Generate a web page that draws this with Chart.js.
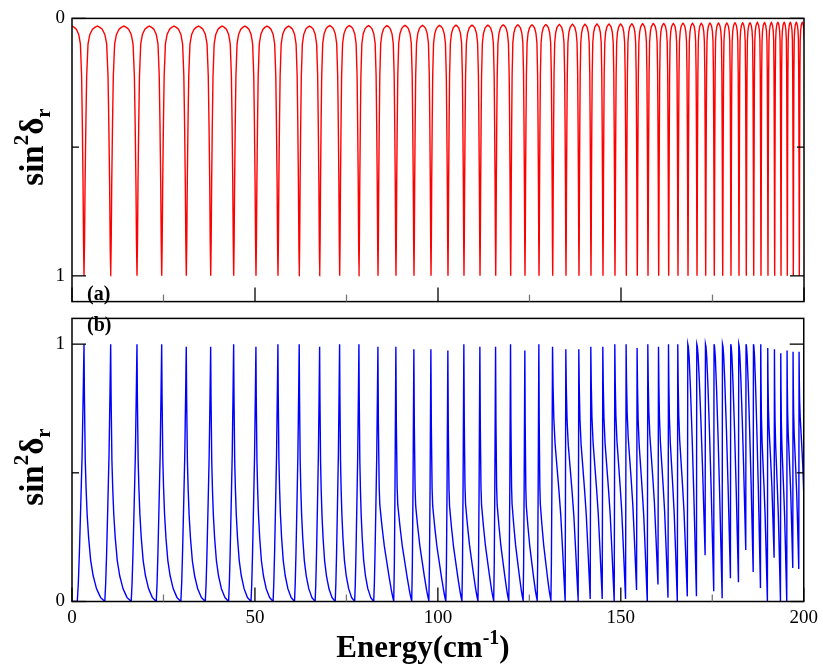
<!DOCTYPE html>
<html>
<head>
<meta charset="utf-8">
<script src="https://cdn.jsdelivr.net/npm/chart.js@4"></script>
<style>
  html, body { margin: 0; padding: 0; background: #fff; }
  #wrap { position: relative; width: 823px; height: 665px; }
  canvas { position: absolute; left: 0; }
</style>
</head>
<body>
<div id="wrap">
  <canvas id="chartA" width="823" height="320" style="top:0px"></canvas>
  <canvas id="chartB" width="823" height="365" style="top:300px"></canvas>
</div>
<script>
const FONT = "'Liberation Serif', 'Times New Roman', serif";

// resonance energies (cm^-1): dips of panel (a), peaks of panel (b)
const energies = [3.28, 10.57, 17.76, 24.51, 31.23, 37.90, 44.18, 50.27, 56.28, 62.10,
  67.68, 73.14, 78.42, 83.61, 88.52, 93.44, 98.09, 102.73, 107.10, 111.48,
  115.77, 119.86, 123.77, 127.60, 131.34, 134.97, 138.52, 141.80, 145.08, 148.36,
  151.45, 154.45, 157.38, 160.30, 163.03, 165.57, 168.31, 170.77, 173.14, 175.49,
  177.79, 180.05, 182.24, 184.23, 186.26, 188.25, 190.16, 191.99, 193.72, 195.44,
  197.08, 198.72];

// panel (a): value at the top of the arch that follows each dip
const topA = [0.03, 0.03, 0.03, 0.03, 0.03, 0.03, 0.03, 0.03, 0.03, 0.03,
  0.028, 0.028, 0.028, 0.028, 0.027, 0.027, 0.027, 0.026, 0.026, 0.026,
  0.025, 0.025, 0.025, 0.024, 0.024, 0.023, 0.023, 0.022, 0.022, 0.022,
  0.021, 0.021, 0.02, 0.02, 0.02, 0.019, 0.019, 0.019, 0.018, 0.018,
  0.018, 0.017, 0.017, 0.017, 0.016, 0.016, 0.016, 0.015, 0.015, 0.015,
  0.015, 0.015];

// panel (b): peak height at each resonance
const peakB = [1, 1, 1, 1, 0.99, 0.99, 1, 0.99, 1, 1,
  0.99, 1, 1, 0.99, 0.99, 0.98, 0.98, 0.975, 1, 0.99,
  0.99, 1, 0.975, 1, 0.99, 0.98, 0.98, 0.99, 0.99, 1,
  1, 0.985, 1, 0.99, 1, 1, 1, 1, 1, 1,
  1, 1, 1, 1, 1, 1, 0.985, 0.98, 0.965, 0.975,
  0.97, 0.97];

// panel (b): lowest value just before each resonance
const minB = [0, 0, 0, 0, 0, 0, 0, 0, 0, 0,
  0, 0, 0, 0, 0, 0, 0, 0, 0, 0,
  0, 0, 0, 0, 0, 0, 0, 0.01, 0.01, 0,
  0.01, 0.045, 0, 0.066, 0.015, 0, 0.02, 0.02, 0.18, 0.04,
  0.013, 0.09, 0.075, 0.2, 0.115, 0.052, 0, 0.17, 0, 0,
  0.13, 0.126];

// panel (b): profile type after each peak (E early, M middle, S s-shaped, A rounded)
const shapeB = 'EEEEEEEEEEEEEMMMMMMMMMMMSSSSSSSSSSSSAAAAAAAAASSSSSSS'.split('');
const firstMinB = 1.45;
const tailMinB = 0.3;

// half an arch of panel (a): fraction of spacing, height above the arch top (0..1)
const archHalfA = [[0, 1], [0.02, 0.86], [0.04, 0.63], [0.07, 0.39], [0.1, 0.2], [0.15, 0.072],
  [0.22, 0.033], [0.32, 0.012], [0.42, 0.004], [0.5, 0]];

// profiles of panel (b) between two resonances
const profilesB = {
  E: { fmin: 0.78,
    decay: [[0, 1], [0.02, 0.8], [0.06, 0.55], [0.1, 0.44], [0.15, 0.34], [0.22, 0.25], [0.32, 0.16], [0.44, 0.1], [0.6, 0.05], [0.8, 0.015], [1, 0]],
    rise: [[0, 0], [0.15, 0.07], [0.3, 0.18], [0.5, 0.36], [0.72, 0.57], [0.89, 0.82], [1, 1]] },
  M: { fmin: 0.88,
    decay: [[0, 1], [0.03, 0.7], [0.08, 0.45], [0.12, 0.38], [0.25, 0.3], [0.4, 0.22], [0.55, 0.16], [0.7, 0.1], [0.85, 0.045], [1, 0]],
    rise: [[0, 0], [0.3, 0.15], [0.6, 0.45], [0.85, 0.8], [1, 1]] },
  S: { fmin: 0.95,
    decay: [[0, 1], [0.04, 0.85], [0.1, 0.72], [0.2, 0.62], [0.35, 0.53], [0.5, 0.44], [0.65, 0.34], [0.8, 0.2], [0.92, 0.08], [1, 0]],
    rise: [[0, 0], [0.5, 0.45], [1, 1]] },
  A: { fmin: 0.96,
    decay: [[0, 1], [0.06, 0.99], [0.15, 0.95], [0.3, 0.83], [0.5, 0.63], [0.7, 0.4], [0.85, 0.2], [1, 0]],
    rise: [[0, 0], [0.4, 0.5], [0.75, 0.88], [1, 1]] }
};

const xMajor = [0, 50, 100, 150, 200];
const xMinor = [25, 75, 125, 175];
const yMajor = [0, 1];
const yMinor = [0.5];

function buildA() {
  const arch = archHalfA.concat(archHalfA.slice(0, -1).reverse().map(([f, v]) => [1 - f, v]));
  const pts = [];
  const e0 = energies[0];
  arch.filter(([f]) => f >= 0.5).forEach(([f, v]) => pts.push({ x: -e0 + f * 2 * e0, y: topA[0] + (1 - topA[0]) * v }));
  energies.forEach((e, i) => {
    const s = i + 1 < energies.length ? energies[i + 1] - e : e - energies[i - 1];
    const top = topA[i];
    arch.forEach(([f, v], k) => { if (k > 0) pts.push({ x: e + f * s, y: top + (1 - top) * v }); });
  });
  return pts;
}

function buildB() {
  const n = energies.length;
  const pts = [{ x: 0, y: 0 }];
  const p0 = profilesB[shapeB[0]];
  p0.rise.forEach(([t, r]) => pts.push({ x: firstMinB + t * (energies[0] - firstMinB), y: peakB[0] * r }));
  for (let i = 0; i < n; i++) {
    const p = profilesB[shapeB[i]];
    const e = energies[i], h = peakB[i];
    const last = i === n - 1;
    const s = last ? e - energies[i - 1] : energies[i + 1] - e;
    const m = last ? tailMinB : minB[i + 1];
    p.decay.forEach(([t, u], k) => { if (k > 0) pts.push({ x: e + t * p.fmin * s, y: m + (h - m) * u }); });
    if (!last) {
      p.rise.forEach(([t, r]) => {
        if (t > 0) pts.push({ x: e + (p.fmin + t * (1 - p.fmin)) * s, y: m + (peakB[i + 1] - m) * r });
      });
    }
  }
  return pts;
}

function line(ctx, x1, y1, x2, y2) {
  ctx.beginPath(); ctx.moveTo(x1, y1); ctx.lineTo(x2, y2); ctx.stroke();
}

// draws text made of parts [text, size, dy] centred on x
function richText(ctx, parts, x, y) {
  let w = 0;
  parts.forEach(([t, size]) => { ctx.font = 'bold ' + size + 'px ' + FONT; w += ctx.measureText(t).width; });
  let cx = x - w / 2;
  ctx.textAlign = 'left';
  ctx.textBaseline = 'alphabetic';
  parts.forEach(([t, size, dy]) => {
    ctx.font = 'bold ' + size + 'px ' + FONT;
    ctx.fillText(t, cx, y + dy);
    cx += ctx.measureText(t).width;
  });
}

const yTitle = [['sin', 33, 0], ['2', 21, -15], ['δ', 33, 0], ['r', 21, 7]];

function framePlugin(label, labelY, titleY, drawX) {
  return {
    id: 'frame',
    afterDatasetsDraw(chart) {
      const { ctx, chartArea: a } = chart;
      const x = chart.scales.x, y = chart.scales.y;
      ctx.save();
      ctx.strokeStyle = '#000';
      ctx.lineWidth = 1.5;
      ctx.strokeRect(a.left, a.top, a.right - a.left, a.bottom - a.top);
      ctx.lineWidth = 1.3;
      xMajor.forEach(v => { const px = x.getPixelForValue(v); line(ctx, px, a.bottom, px, a.bottom - 14); });
      yMajor.forEach(v => {
        const py = y.getPixelForValue(v);
        line(ctx, a.left, py, a.left + 14, py);
        line(ctx, a.right, py, a.right - 14, py);
      });
      ctx.strokeStyle = '#777';
      xMinor.forEach(v => { const px = x.getPixelForValue(v); line(ctx, px, a.bottom, px, a.bottom - 7); });
      ctx.strokeStyle = '#000';
      yMinor.forEach(v => {
        const py = y.getPixelForValue(v);
        line(ctx, a.left, py, a.left + 7, py);
        line(ctx, a.right, py, a.right - 7, py);
      });
      ctx.fillStyle = '#000';
      ctx.font = 'bold 20px ' + FONT;
      ctx.textAlign = 'left';
      ctx.textBaseline = 'alphabetic';
      ctx.fillText(label, 87, labelY);
      ctx.save();
      ctx.translate(33, titleY);
      ctx.rotate(-Math.PI / 2);
      richText(ctx, yTitle, 0, 10);
      ctx.restore();
      if (drawX) {
        richText(ctx, [['Energy(cm', 31, 0], ['-1', 20, -13], [')', 31, 0]], 423, 357);
      }
      ctx.restore();
    }
  };
}

function yScale(reverse) {
  return {
    type: 'linear', min: 0, max: 1.1, reverse: reverse,
    grid: { display: false, drawTicks: false },
    border: { display: false },
    afterBuildTicks: s => { s.ticks = yMajor.map(v => ({ value: v })); },
    afterFit: s => { s.width = 72; },
    ticks: { font: { family: FONT, size: 19 }, color: '#000', padding: 7 }
  };
}

new Chart(document.getElementById('chartA'), {
  type: 'line',
  data: { datasets: [{ data: buildA(), borderColor: '#ff0000', borderWidth: 1.4, pointRadius: 0, tension: 0.0001 }] },
  options: {
    responsive: false, animation: false, devicePixelRatio: 1,
    layout: { padding: { top: 16, right: 19, bottom: 11.5, left: 0 } },
    plugins: { legend: { display: false }, tooltip: { enabled: false } },
    scales: {
      x: { type: 'linear', min: 0, max: 200, display: false },
      y: yScale(true)
    }
  },
  plugins: [framePlugin('(a)', 300, 147, false)]
});

new Chart(document.getElementById('chartB'), {
  type: 'line',
  data: { datasets: [{ data: buildB(), borderColor: '#0000ff', borderWidth: 1.4, pointRadius: 0, tension: 0.0001 }] },
  options: {
    responsive: false, animation: false, devicePixelRatio: 1,
    layout: { padding: { top: 8, right: 19, bottom: 0, left: 0 } },
    plugins: { legend: { display: false }, tooltip: { enabled: false } },
    scales: {
      x: {
        type: 'linear', min: 0, max: 200,
        grid: { display: false, drawTicks: false },
        border: { display: false },
        afterBuildTicks: s => { s.ticks = xMajor.map(v => ({ value: v })); },
        afterFit: s => { s.height = 63.5; },
        ticks: { font: { family: FONT, size: 19 }, color: '#000', padding: 5, maxRotation: 0 }
      },
      y: yScale(false)
    }
  },
  plugins: [framePlugin('(b)', 31, 167, true)]
});
</script>
</body>
</html>
